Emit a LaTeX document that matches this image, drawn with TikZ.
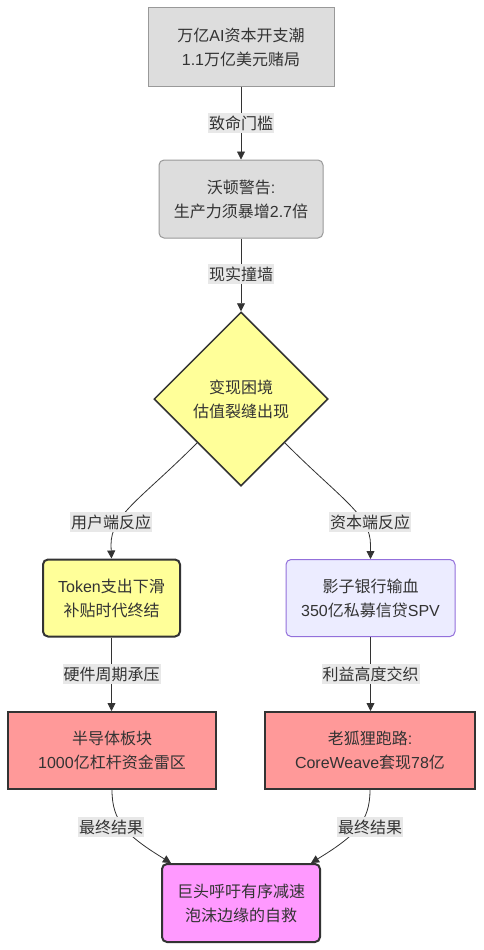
\documentclass[tikz,border=0pt]{standalone}
\usepackage{fontspec}
\setmainfont{Liberation Sans}
\newfontfamily\cjk{Noto Sans CJK SC}
\newcommand\zh[1]{{\cjk #1}}
\usetikzlibrary{shapes.geometric,arrows.meta,calc}
\definecolor{txt}{HTML}{333333}
\definecolor{greyfill}{HTML}{DDDDDD}
\definecolor{greyline}{HTML}{999999}
\definecolor{yel}{HTML}{FFFF99}
\definecolor{lav}{HTML}{ECECFF}
\definecolor{lavline}{HTML}{9370DB}
\definecolor{redfill}{HTML}{FF9999}
\definecolor{pinkfill}{HTML}{FF99FF}
\definecolor{lblfill}{HTML}{E8E8E8}
\tikzset{
  base/.style={align=center, text=txt, font=\fontsize{16}{24}\selectfont, inner sep=0pt},
  greybox/.style={base, draw=greyline, fill=greyfill, line width=1pt, minimum height=78pt},
  strongbox/.style={base, draw=txt, line width=2pt, minimum height=77pt},
  lbl/.style={base, fill=lblfill, inner xsep=1pt, inner ysep=3pt},
  edge/.style={draw=txt, line width=0.8pt, -{Triangle[length=8pt,width=8pt]}},
}
\begin{document}
\begin{tikzpicture}[x=1pt,y=-1pt]
\useasboundingbox[fill=white] (0,0) rectangle (484,950);
% nodes
\node[greybox, minimum width=186pt] (top) at (241,47) {\zh{万亿}AI\zh{资本开支潮}\\1.1\zh{万亿美元赌局}};
\node[greybox, rounded corners=5pt, minimum width=164pt] (wh) at (241,199) {\zh{沃顿警告}:\\\zh{生产力须暴增}2.7\zh{倍}};
\node[base, diamond, draw=txt, fill=yel, line width=1.5pt, minimum width=174pt, minimum height=174pt] (dia) at (241,399) {\zh{变现困境}\\\zh{估值裂缝出现}};
\node[strongbox, fill=yel, rounded corners=5pt, minimum width=137pt] (tok) at (111.5,598) {Token\zh{支出下滑}\\\zh{补贴时代终结}};
\node[base, draw=lavline, fill=lav, line width=1pt, rounded corners=5pt, minimum width=169pt, minimum height=77pt] (shd) at (370.5,598) {\zh{影子银行输血}\\350\zh{亿私募信贷}SPV};
\node[strongbox, fill=redfill, minimum width=208pt] (semi) at (112,750.5) {\zh{半导体板块}\\1000\zh{亿杠杆资金雷区}};
\node[strongbox, fill=redfill, minimum width=210pt] (fox) at (370,750.5) {\zh{老狐狸跑路}:\\CoreWeave\zh{套现}78\zh{亿}};
\node[strongbox, fill=pinkfill, rounded corners=5pt, minimum width=158pt, minimum height=78pt] (end) at (241,903) {\zh{巨头呼吁有序减速}\\\zh{泡沫边缘的自救}};
% edges
\draw[edge] (top.south) -- (wh.north);
\draw[edge] (wh.south) -- (dia.north);
\draw[edge] (dia.south west) .. controls (140,500) and (111,515) .. (111,545) -- (tok.north);
\draw[edge] (dia.south east) .. controls (342,500) and (370.5,515) .. (370.5,545) -- (shd.north);
\draw[edge] (tok.south) -- (tok.south |- semi.north);
\draw[edge] (shd.south) -- (shd.south |- fox.north);
\draw[edge] (semi.south) .. controls (112,822) and (127,836) .. ($(end.north west)+(10,0)$);
\draw[edge] (fox.south) .. controls (370,822) and (355,836) .. ($(end.north east)+(-10,0)$);
% labels
\node[lbl] (l1) at (241,123) {\zh{致命门槛}};
\node[lbl] (l2) at (241,274) {\zh{现实撞墙}};
\node[lbl] (l3) at (111,522) {\zh{用户端反应}};
\node[lbl] (l4) at (370,522) {\zh{资本端反应}};
\node[lbl] (l5) at (111.5,674) {\zh{硬件周期承压}};
\node[lbl] (l6) at (370.5,674) {\zh{利益高度交织}};
\node[lbl] (l7) at (111,827) {\zh{最终结果}};
\node[lbl] (l8) at (370,827) {\zh{最终结果}};
\end{tikzpicture}
\end{document}
